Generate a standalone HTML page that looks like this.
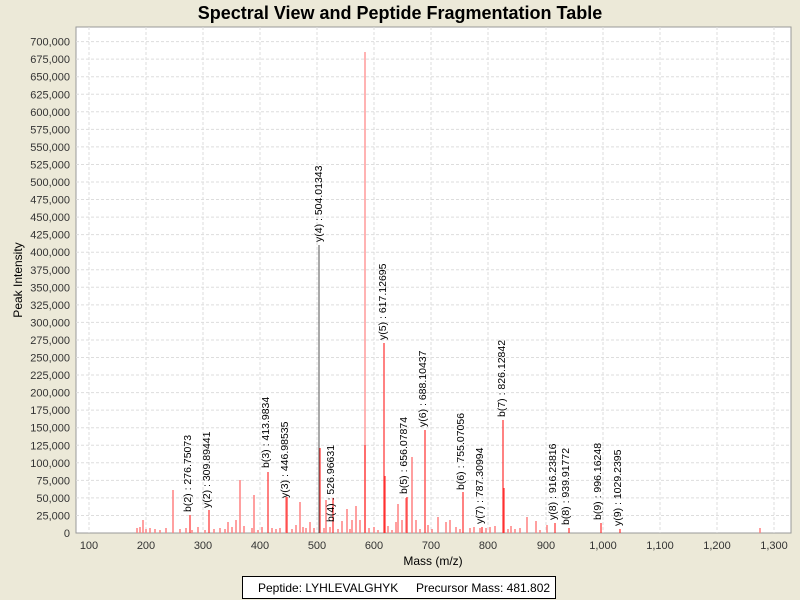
<!DOCTYPE html>
<html><head><meta charset="utf-8"><style>
html,body{margin:0;padding:0;background:#ece9d8;}
svg{display:block;font-family:"Liberation Sans",sans-serif;}
</style></head><body>
<svg width="800" height="600" viewBox="0 0 800 600">
<rect width="800" height="600" fill="#ece9d8"/>
<text x="400" y="19" text-anchor="middle" font-size="18" font-weight="bold">Spectral View and Peptide Fragmentation Table</text>
<rect x="76" y="27" width="715" height="506" fill="#fff" stroke="#999"/>
<g stroke="#ddd" stroke-dasharray="3,2" stroke-width="1">
<line x1="76" x2="791" y1="515.45" y2="515.45"/><line x1="76" x2="791" y1="497.9" y2="497.9"/><line x1="76" x2="791" y1="480.35" y2="480.35"/><line x1="76" x2="791" y1="462.8" y2="462.8"/><line x1="76" x2="791" y1="445.25" y2="445.25"/><line x1="76" x2="791" y1="427.7" y2="427.7"/><line x1="76" x2="791" y1="410.15" y2="410.15"/><line x1="76" x2="791" y1="392.6" y2="392.6"/><line x1="76" x2="791" y1="375.05" y2="375.05"/><line x1="76" x2="791" y1="357.5" y2="357.5"/><line x1="76" x2="791" y1="339.95" y2="339.95"/><line x1="76" x2="791" y1="322.4" y2="322.4"/><line x1="76" x2="791" y1="304.85" y2="304.85"/><line x1="76" x2="791" y1="287.3" y2="287.3"/><line x1="76" x2="791" y1="269.75" y2="269.75"/><line x1="76" x2="791" y1="252.2" y2="252.2"/><line x1="76" x2="791" y1="234.65" y2="234.65"/><line x1="76" x2="791" y1="217.1" y2="217.1"/><line x1="76" x2="791" y1="199.55" y2="199.55"/><line x1="76" x2="791" y1="182" y2="182"/><line x1="76" x2="791" y1="164.45" y2="164.45"/><line x1="76" x2="791" y1="146.9" y2="146.9"/><line x1="76" x2="791" y1="129.35" y2="129.35"/><line x1="76" x2="791" y1="111.8" y2="111.8"/><line x1="76" x2="791" y1="94.25" y2="94.25"/><line x1="76" x2="791" y1="76.7" y2="76.7"/><line x1="76" x2="791" y1="59.15" y2="59.15"/><line x1="76" x2="791" y1="41.6" y2="41.6"/>
<line y1="27" y2="533" x1="89" x2="89"/><line y1="27" y2="533" x1="146" x2="146"/><line y1="27" y2="533" x1="203" x2="203"/><line y1="27" y2="533" x1="260" x2="260"/><line y1="27" y2="533" x1="317" x2="317"/><line y1="27" y2="533" x1="374" x2="374"/><line y1="27" y2="533" x1="431" x2="431"/><line y1="27" y2="533" x1="488" x2="488"/><line y1="27" y2="533" x1="546" x2="546"/><line y1="27" y2="533" x1="603" x2="603"/><line y1="27" y2="533" x1="660" x2="660"/><line y1="27" y2="533" x1="717" x2="717"/><line y1="27" y2="533" x1="774" x2="774"/>
</g>
<g font-size="11" text-anchor="end" fill="#333">
<text x="70" y="537">0</text><text x="70" y="519.5">25,000</text><text x="70" y="502">50,000</text><text x="70" y="484.4">75,000</text><text x="70" y="466.8">100,000</text><text x="70" y="449.3">125,000</text><text x="70" y="431.7">150,000</text><text x="70" y="414.2">175,000</text><text x="70" y="396.6">200,000</text><text x="70" y="379.1">225,000</text><text x="70" y="361.5">250,000</text><text x="70" y="344">275,000</text><text x="70" y="326.4">300,000</text><text x="70" y="308.9">325,000</text><text x="70" y="291.3">350,000</text><text x="70" y="273.8">375,000</text><text x="70" y="256.2">400,000</text><text x="70" y="238.7">425,000</text><text x="70" y="221.1">450,000</text><text x="70" y="203.6">475,000</text><text x="70" y="186">500,000</text><text x="70" y="168.5">525,000</text><text x="70" y="150.9">550,000</text><text x="70" y="133.4">575,000</text><text x="70" y="115.8">600,000</text><text x="70" y="98.3">625,000</text><text x="70" y="80.7">650,000</text><text x="70" y="63.2">675,000</text><text x="70" y="45.6">700,000</text>
</g>
<g font-size="11" text-anchor="middle" fill="#333">
<text x="89" y="549">100</text><text x="146" y="549">200</text><text x="203" y="549">300</text><text x="260" y="549">400</text><text x="317" y="549">500</text><text x="374" y="549">600</text><text x="431" y="549">700</text><text x="488" y="549">800</text><text x="546" y="549">900</text><text x="603" y="549">1,000</text><text x="660" y="549">1,100</text><text x="717" y="549">1,200</text><text x="774" y="549">1,300</text>
</g>
<text x="433" y="565" text-anchor="middle" font-size="12">Mass (m/z)</text>
<text transform="translate(22,280) rotate(-90)" text-anchor="middle" font-size="12">Peak Intensity</text>
<g stroke="#ff8080" stroke-width="1.5">
<line x1="137" x2="137" y1="533" y2="528"/><line x1="140" x2="140" y1="533" y2="527"/><line x1="146" x2="146" y1="533" y2="529"/><line x1="150" x2="150" y1="533" y2="528"/><line x1="155" x2="155" y1="533" y2="529"/><line x1="160" x2="160" y1="533" y2="530"/><line x1="166" x2="166" y1="533" y2="528"/><line x1="180" x2="180" y1="533" y2="529"/><line x1="186" x2="186" y1="533" y2="528"/><line x1="192" x2="192" y1="533" y2="530"/><line x1="198" x2="198" y1="533" y2="527"/><line x1="205" x2="205" y1="533" y2="530"/><line x1="214" x2="214" y1="533" y2="529"/><line x1="220" x2="220" y1="533" y2="528"/><line x1="225" x2="225" y1="533" y2="529"/><line x1="228" x2="228" y1="533" y2="522"/><line x1="232" x2="232" y1="533" y2="527"/><line x1="236" x2="236" y1="533" y2="520"/><line x1="244" x2="244" y1="533" y2="526"/><line x1="252" x2="252" y1="533" y2="528"/><line x1="258" x2="258" y1="533" y2="530"/><line x1="262" x2="262" y1="533" y2="527"/><line x1="272" x2="272" y1="533" y2="528"/><line x1="276" x2="276" y1="533" y2="529"/><line x1="280" x2="280" y1="533" y2="528"/><line x1="292" x2="292" y1="533" y2="529"/><line x1="296" x2="296" y1="533" y2="525"/><line x1="303" x2="303" y1="533" y2="527"/><line x1="306" x2="306" y1="533" y2="528"/><line x1="310" x2="310" y1="533" y2="522"/><line x1="314" x2="314" y1="533" y2="528"/><line x1="324" x2="324" y1="533" y2="528"/><line x1="330" x2="330" y1="533" y2="527"/><line x1="338" x2="338" y1="533" y2="529"/><line x1="342" x2="342" y1="533" y2="521"/><line x1="350" x2="350" y1="533" y2="529"/><line x1="352" x2="352" y1="533" y2="520"/><line x1="360" x2="360" y1="533" y2="520"/><line x1="369" x2="369" y1="533" y2="528"/><line x1="374" x2="374" y1="533" y2="527"/><line x1="378" x2="378" y1="533" y2="530"/><line x1="388" x2="388" y1="533" y2="526"/><line x1="392" x2="392" y1="533" y2="530"/><line x1="396" x2="396" y1="533" y2="522"/><line x1="402" x2="402" y1="533" y2="520"/><line x1="416" x2="416" y1="533" y2="520"/><line x1="420" x2="420" y1="533" y2="529"/><line x1="428" x2="428" y1="533" y2="525"/><line x1="432" x2="432" y1="533" y2="529"/><line x1="446" x2="446" y1="533" y2="522"/><line x1="450" x2="450" y1="533" y2="520"/><line x1="456" x2="456" y1="533" y2="527"/><line x1="460" x2="460" y1="533" y2="529"/><line x1="470" x2="470" y1="533" y2="528"/><line x1="474" x2="474" y1="533" y2="527"/><line x1="480" x2="480" y1="533" y2="528"/><line x1="486" x2="486" y1="533" y2="528"/><line x1="490" x2="490" y1="533" y2="527"/><line x1="495" x2="495" y1="533" y2="526"/><line x1="508" x2="508" y1="533" y2="529"/><line x1="511" x2="511" y1="533" y2="526"/><line x1="515" x2="515" y1="533" y2="529"/><line x1="520" x2="520" y1="533" y2="528"/><line x1="540" x2="540" y1="533" y2="530"/><line x1="760" x2="760" y1="533" y2="528"/>
<line x1="143" x2="143" y1="533" y2="520"/><line x1="173" x2="173" y1="533" y2="490"/><line x1="240" x2="240" y1="533" y2="480"/><line x1="254" x2="254" y1="533" y2="495"/><line x1="286" x2="286" y1="533" y2="497"/><line x1="300" x2="300" y1="533" y2="502"/><line x1="326" x2="326" y1="533" y2="500"/><line x1="347" x2="347" y1="533" y2="509"/><line x1="356" x2="356" y1="533" y2="506"/><line x1="398" x2="398" y1="533" y2="504"/><line x1="406" x2="406" y1="533" y2="498"/><line x1="412" x2="412" y1="533" y2="457"/><line x1="438" x2="438" y1="533" y2="517"/><line x1="527" x2="527" y1="533" y2="517"/><line x1="536" x2="536" y1="533" y2="521"/><line x1="547" x2="547" y1="533" y2="525"/>
<line x1="365" x2="365" y1="533" y2="52" stroke="#ff9a9a"/>
</g>
<g stroke="#ff3030" stroke-width="1.2">
<line x1="320" x2="320" y1="533" y2="448"/><line x1="365" x2="365" y1="533" y2="445"/><line x1="385" x2="385" y1="533" y2="476"/><line x1="504" x2="504" y1="533" y2="488"/>
<line x1="190" x2="190" y1="533" y2="515"/><line x1="209" x2="209" y1="533" y2="510"/><line x1="268" x2="268" y1="533" y2="472"/><line x1="287" x2="287" y1="533" y2="497"/><line x1="333" x2="333" y1="533" y2="498"/><line x1="384" x2="384" y1="533" y2="343"/><line x1="407" x2="407" y1="533" y2="497"/><line x1="425" x2="425" y1="533" y2="430"/><line x1="463" x2="463" y1="533" y2="492"/><line x1="482" x2="482" y1="533" y2="527"/><line x1="503" x2="503" y1="533" y2="420"/><line x1="555" x2="555" y1="533" y2="523"/><line x1="569" x2="569" y1="533" y2="528"/><line x1="601" x2="601" y1="533" y2="523"/><line x1="620" x2="620" y1="533" y2="529"/>
</g>
<line x1="319" x2="319" y1="533" y2="245" stroke="#555" stroke-width="1"/>
<g font-size="10.5" fill="#000">
<text transform="translate(191,512) rotate(-90)">b(2) : 276.75073</text>
<text transform="translate(210,508) rotate(-90)">y(2) : 309.89441</text>
<text transform="translate(269,468) rotate(-90)">b(3) : 413.9834</text>
<text transform="translate(288,498) rotate(-90)">y(3) : 446.98535</text>
<text transform="translate(322,242) rotate(-90)">y(4) : 504.01343</text>
<text transform="translate(334,522) rotate(-90)">b(4) : 526.96631</text>
<text transform="translate(386,340) rotate(-90)">y(5) : 617.12695</text>
<text transform="translate(407,494) rotate(-90)">b(5) : 656.07874</text>
<text transform="translate(426,427) rotate(-90)">y(6) : 688.10437</text>
<text transform="translate(464,490) rotate(-90)">b(6) : 755.07056</text>
<text transform="translate(483,524) rotate(-90)">y(7) : 787.30994</text>
<text transform="translate(505,417) rotate(-90)">b(7) : 826.12842</text>
<text transform="translate(556,520) rotate(-90)">y(8) : 916.23816</text>
<text transform="translate(569,525) rotate(-90)">b(8) : 939.91772</text>
<text transform="translate(601,520) rotate(-90)">b(9) : 996.16248</text>
<text transform="translate(621,526) rotate(-90)">y(9) : 1029.2395</text>
</g>
<rect x="242.5" y="576.5" width="313" height="22" fill="#fff" stroke="#000"/>
<text x="258" y="592" font-size="12">Peptide: LYHLEVALGHYK</text>
<text x="416" y="592" font-size="12">Precursor Mass: 481.802</text>
</svg>
</body></html>
